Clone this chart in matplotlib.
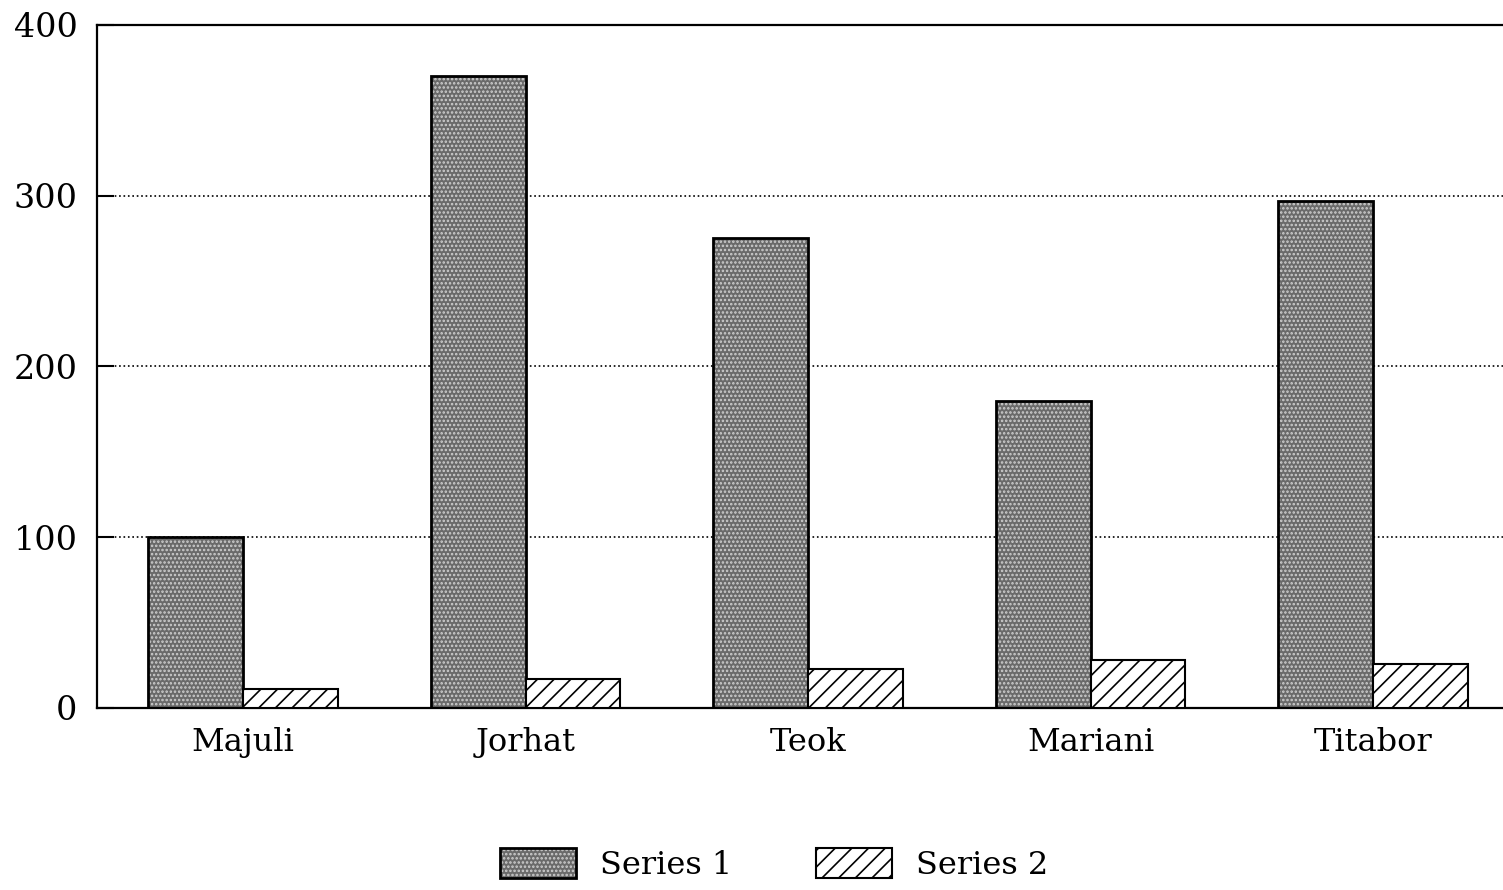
import numpy as np
import matplotlib
matplotlib.use("Agg")
import matplotlib.pyplot as plt
from matplotlib.patches import Patch

# data
places = ["Majuli", "Jorhat", "Teok", "Mariani", "Titabor"]
series1 = [100, 370, 275, 180, 297]
series2 = [11, 17, 23, 28, 26]
yticks = [0, 100, 200, 300, 400]

plt.rcParams['font.family'] = ['DejaVu Serif']
plt.rcParams['hatch.linewidth'] = 1.2

fig = plt.figure(figsize=(15.03, 8.90), dpi=100)
ax = fig.add_axes([0.0645, 0.2045, 0.9355, 0.7675])

x = np.arange(len(places))
w = 0.335

# series 1: gray stipple, outlined in black
ax.bar(x - w / 2, series1, w, color='#6a6a6a', edgecolor='#cfcfcf',
       hatch='....', linewidth=0, zorder=2)
ax.bar(x - w / 2, series1, w, fill=False, edgecolor='black', linewidth=2, zorder=3)
# series 2: diagonal hatch
ax.bar(x + w / 2, series2, w, color='white', edgecolor='black',
       hatch='//', linewidth=1.5, zorder=3)

ax.set_xlim(-0.517, 4.46)
ax.set_ylim(0, 400)
ax.set_yticks(yticks)
ax.set_xticks(x)
ax.set_xticklabels(places)

ax.yaxis.grid(True, linestyle=':', color='black', linewidth=1.2)
ax.set_axisbelow(True)

ax.tick_params(axis='y', direction='in', length=12, width=1.5, pad=14, labelsize=24)
ax.tick_params(axis='x', length=0, pad=14, labelsize=23)

for s in ['left', 'top', 'bottom']:
    ax.spines[s].set_linewidth(1.6)
ax.spines['right'].set_visible(False)

h1 = (Patch(facecolor='#6a6a6a', edgecolor='#cfcfcf', hatch='....', linewidth=0),
      Patch(fill=False, edgecolor='black', linewidth=2))
h2 = Patch(facecolor='white', edgecolor='black', hatch='//', linewidth=1.5)
fig.legend([h1, h2], ['Series 1', 'Series 2'], loc='lower center',
           bbox_to_anchor=(0.515, -0.022), ncol=2, frameon=False, fontsize=23,
           handlelength=2.4, handleheight=1.1, handletextpad=0.75,
           columnspacing=2.6)

fig.savefig('out.png', dpi=100)
